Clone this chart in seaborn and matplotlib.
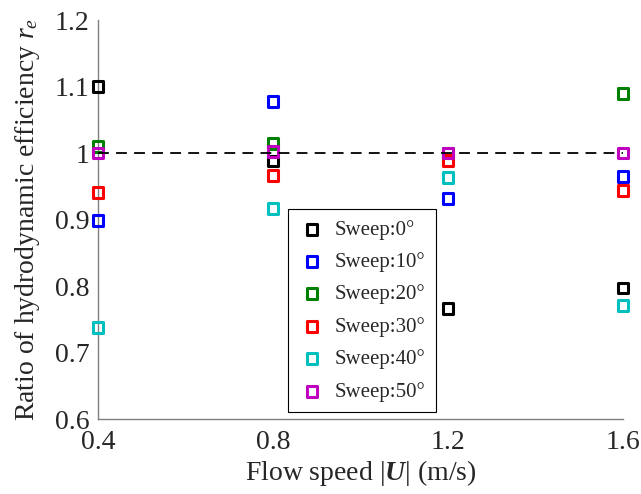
import numpy as np
import pandas as pd
import matplotlib
matplotlib.use("Agg")
import matplotlib.pyplot as plt
import seaborn as sns

# Flow speed (m/s) and efficiency ratio r_e for each sweep angle
speeds = [0.4, 0.8, 1.2, 1.6]
sweep_labels = ["Sweep:0°", "Sweep:10°", "Sweep:20°", "Sweep:30°", "Sweep:40°", "Sweep:50°"]
re_sweep0 = [1.100, 0.988, 0.766, 0.797]
re_sweep10 = [0.899, 1.078, 0.932, 0.965]
re_sweep20 = [1.010, 1.015, 1.000, 1.090]
re_sweep30 = [0.941, 0.966, 0.989, 0.943]
re_sweep40 = [0.737, 0.917, 0.963, 0.771]
re_sweep50 = [1.000, 1.002, 1.000, 1.000]
baseline = 1.0

x_ticks = [0.4, 0.8, 1.2, 1.6]
y_ticks = [0.6, 0.7, 0.8, 0.9, 1.0, 1.1, 1.2]
y_ticklabels = ["0.6", "0.7", "0.8", "0.9", "1", "1.1", "1.2"]

colors = ["#000000", "#0000ff", "#008000", "#ff0000", "#00bfbf", "#bf00bf"]
series = [re_sweep0, re_sweep10, re_sweep20, re_sweep30, re_sweep40, re_sweep50]

sns.set_style("white")
plt.rcParams["font.family"] = ["Liberation Serif", "DejaVu Serif"]
plt.rcParams["mathtext.fontset"] = "custom"
plt.rcParams["mathtext.rm"] = "Liberation Serif"
plt.rcParams["mathtext.it"] = "Liberation Serif:italic"
plt.rcParams["mathtext.bf"] = "Liberation Serif:bold"
plt.rcParams["mathtext.bfit"] = "Liberation Serif:italic:bold"

fig = plt.figure(figsize=(6.41, 4.94), dpi=100)
ax = fig.add_axes([0.1529, 0.1518, 0.819, 0.8077])

for label, vals, c in zip(sweep_labels, series, colors):
    df = pd.DataFrame({"speed": speeds, "re": vals})
    sns.scatterplot(data=df, x="speed", y="re", marker="s", s=62,
                    facecolor="none", edgecolor=c, linewidth=2.2,
                    label=label, ax=ax, clip_on=False, zorder=3)

ax.axhline(baseline, color="black", linestyle=(0, (6, 4)), linewidth=1.3, zorder=4)

ax.set_xlim(0.4, 1.6)
ax.set_ylim(0.6, 1.2)
ax.set_xticks(x_ticks)
ax.set_xticklabels([f"{v:.1f}" for v in x_ticks])
ax.set_yticks(y_ticks)
ax.set_yticklabels(y_ticklabels)
ax.tick_params(direction="in", length=5, width=0.8, color="#808080",
               labelsize=20, labelcolor="#262626")
ax.tick_params(axis="x", pad=8)
ax.tick_params(axis="y", pad=6)

for side in ["top", "right"]:
    ax.spines[side].set_visible(False)
for side in ["left", "bottom"]:
    ax.spines[side].set_color("#808080")
    ax.spines[side].set_linewidth(1.0)

ax.set_xlabel(r"Flow speed $|\mathbfit{U}|$ (m/s)", fontsize=20, color="#262626", labelpad=2)
ax.set_ylabel(r"Ratio of hydrodynamic efficiency $r_e$", fontsize=20, color="#262626", labelpad=9)

leg = ax.legend(loc="lower left", bbox_to_anchor=(0.362, 0.0175), fontsize=15,
                frameon=True, fancybox=False, edgecolor="black", framealpha=1,
                borderpad=0.5, labelspacing=0.6, handlelength=1.3,
                handletextpad=0.45, borderaxespad=0)
leg.get_frame().set_linewidth(0.8)

fig.savefig("out.png", dpi=100)
